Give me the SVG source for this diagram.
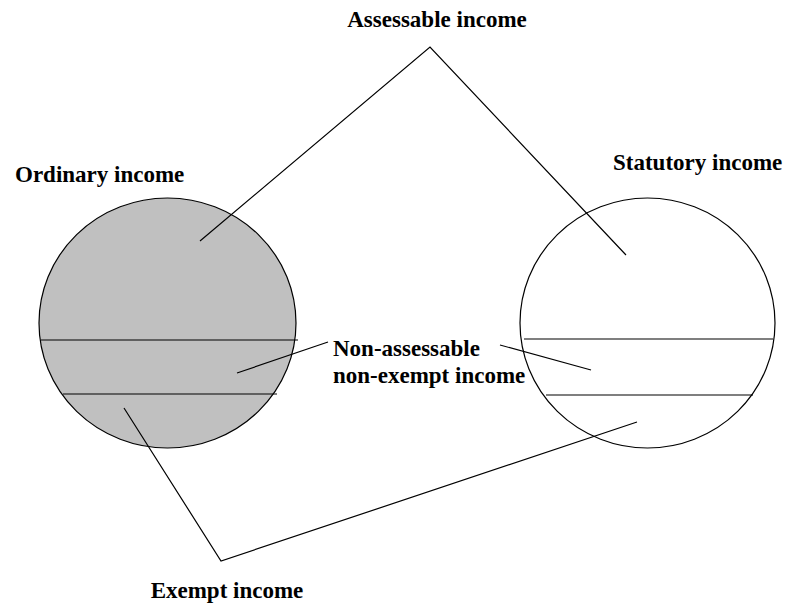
<svg xmlns="http://www.w3.org/2000/svg" width="786" height="604" viewBox="0 0 786 604">
<style>
.lbl{font-family:"Liberation Serif","Times New Roman",serif;font-weight:bold;font-size:23px;fill:#000}
.ln{stroke:#000;stroke-width:1.2;fill:none}
</style>
<rect width="786" height="604" fill="#fff"/>
<g id="ordinary">
<ellipse cx="167.5" cy="323" rx="128.5" ry="125" fill="#c0c0c0" stroke="#000" stroke-width="1.2"/>
<line class="ln" x1="41" y1="340" x2="298" y2="340"/>
<line class="ln" x1="63" y1="394" x2="277" y2="394"/>
<text class="lbl" x="15" y="182">Ordinary income</text>
</g>
<g id="statutory">
<ellipse cx="647.5" cy="323" rx="127.5" ry="125" fill="#fff" stroke="#000" stroke-width="1.2"/>
<line class="ln" x1="524" y1="339" x2="773" y2="339"/>
<line class="ln" x1="546" y1="395" x2="753" y2="395"/>
<text class="lbl" x="613" y="170">Statutory income</text>
</g>
<g id="assessable"><text class="lbl" x="437" y="27" text-anchor="middle">Assessable income</text></g>
<g id="nonassessable">
<text class="lbl" x="333" y="356">Non-assessable</text>
<text class="lbl" x="333" y="383">non-exempt income</text>
</g>
<g id="exempt"><text class="lbl" x="227" y="598" text-anchor="middle">Exempt income</text></g>
<g id="connectors">
<polyline class="ln" points="200,241 430,47 626,255"/>
<line class="ln" x1="237" y1="373" x2="328" y2="342"/>
<line class="ln" x1="500" y1="345" x2="591" y2="370"/>
<polyline class="ln" points="124,408 221,561 637,422"/>
</g>
</svg>
